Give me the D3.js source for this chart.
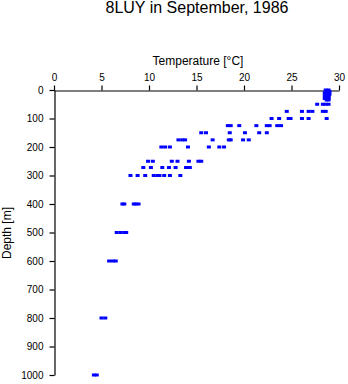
<!DOCTYPE html>
<html>
<head>
<meta charset="utf-8">
<script src="https://cdn.jsdelivr.net/npm/d3@7"></script>
<style>
  html, body { margin: 0; padding: 0; background: #fff; }
  svg { display: block; font-family: "Liberation Sans", Arial, sans-serif; }
</style>
</head>
<body>
<svg id="chart" width="348" height="384"></svg>
<script>
// ---- data ----
const title = "8LUY in September, 1986";
const xLabel = "Temperature [°C]";
const yLabel = "Depth [m]";
const xTicks = [0, 5, 10, 15, 20, 25, 30];
const yTicks = [0, 100, 200, 300, 400, 500, 600, 700, 800, 900, 1000];
const depthLevels = [0, 5, 10, 15, 20, 25, 30, 35, 50, 75, 100, 125, 150, 175, 200, 250, 272, 300, 400, 500, 600, 800, 1000];
const tempsAtDepth = [
  [28.6, 28.9], [28.7, 29.0], [28.5, 28.9], [28.6, 29.0], [28.5, 28.9], [28.6, 28.9], [28.5, 28.9], [28.7, 28.9],
  [27.7, 28.3, 28.6, 28.9],
  [24.5, 26.1, 26.8, 27.2, 28.3, 28.6],
  [22.9, 23.7, 24.7, 24.9, 26.1, 26.8, 28.7],
  [18.3, 18.6, 19.5, 21.3, 22.4, 22.7, 23.5, 23.9],
  [15.5, 16.0, 18.5, 20.1, 21.6, 22.4],
  [13.1, 13.5, 13.8, 16.7, 18.4, 18.6, 19.9, 20.5],
  [11.3, 11.7, 12.2, 14.1, 16.3, 17.4, 17.9],
  [9.9, 10.4, 12.4, 13.0, 14.2, 15.2, 15.5],
  [9.4, 10.2, 11.4, 12.1, 12.8, 13.9, 14.3],
  [8.05, 8.8, 9.6, 10.5, 10.9, 11.1, 11.6, 12.2, 13.3],
  [7.2, 7.4, 8.4, 8.6, 8.9],
  [6.6, 7.0, 7.4, 7.6],
  [5.8, 6.2, 6.5],
  [5.0, 5.4],
  [4.2, 4.5]
];

// ---- chart ----
const svg = d3.select("#chart");
const x = d3.scaleLinear().domain([0, 30]).range([54, 339]);
const y = d3.scaleLinear().domain([0, 1000]).range([90, 375]);

const points = [];
depthLevels.forEach((d, i) => tempsAtDepth[i].forEach(t => points.push({ t, d })));

svg.append("text")
  .attr("x", 197).attr("y", 13)
  .attr("text-anchor", "middle")
  .attr("font-size", 16)
  .text(title);

svg.append("text")
  .attr("x", 198).attr("y", 65)
  .attr("text-anchor", "middle")
  .attr("font-size", 12)
  .text(xLabel);

svg.append("text")
  .attr("transform", "translate(11,233) rotate(-90)")
  .attr("text-anchor", "middle")
  .attr("font-size", 12)
  .text(yLabel);

const gx = svg.append("g").attr("transform", "translate(0,90.5)")
  .call(d3.axisTop(x).tickValues(xTicks).tickFormat(d3.format("d")).tickSize(5).tickSizeOuter(0).tickPadding(5));
const gy = svg.append("g").attr("transform", "translate(54.5,0)")
  .call(d3.axisLeft(y).tickValues(yTicks).tickFormat(d3.format("d")).tickSize(5).tickSizeOuter(0).tickPadding(6));

[gx, gy].forEach(g => {
  g.selectAll("text").attr("font-size", 10).attr("font-family", "Liberation Sans, Arial, sans-serif").attr("fill", "#000");
  g.selectAll("line,path").attr("stroke", "#000").attr("stroke-width", 1.2);
});

svg.append("g").selectAll("rect").data(points).join("rect")
  .attr("x", p => x(p.t) - 2)
  .attr("y", p => y(p.d) - 1.5)
  .attr("width", 4)
  .attr("height", 3)
  .attr("fill", "#0000ff");
</script>
</body>
</html>
